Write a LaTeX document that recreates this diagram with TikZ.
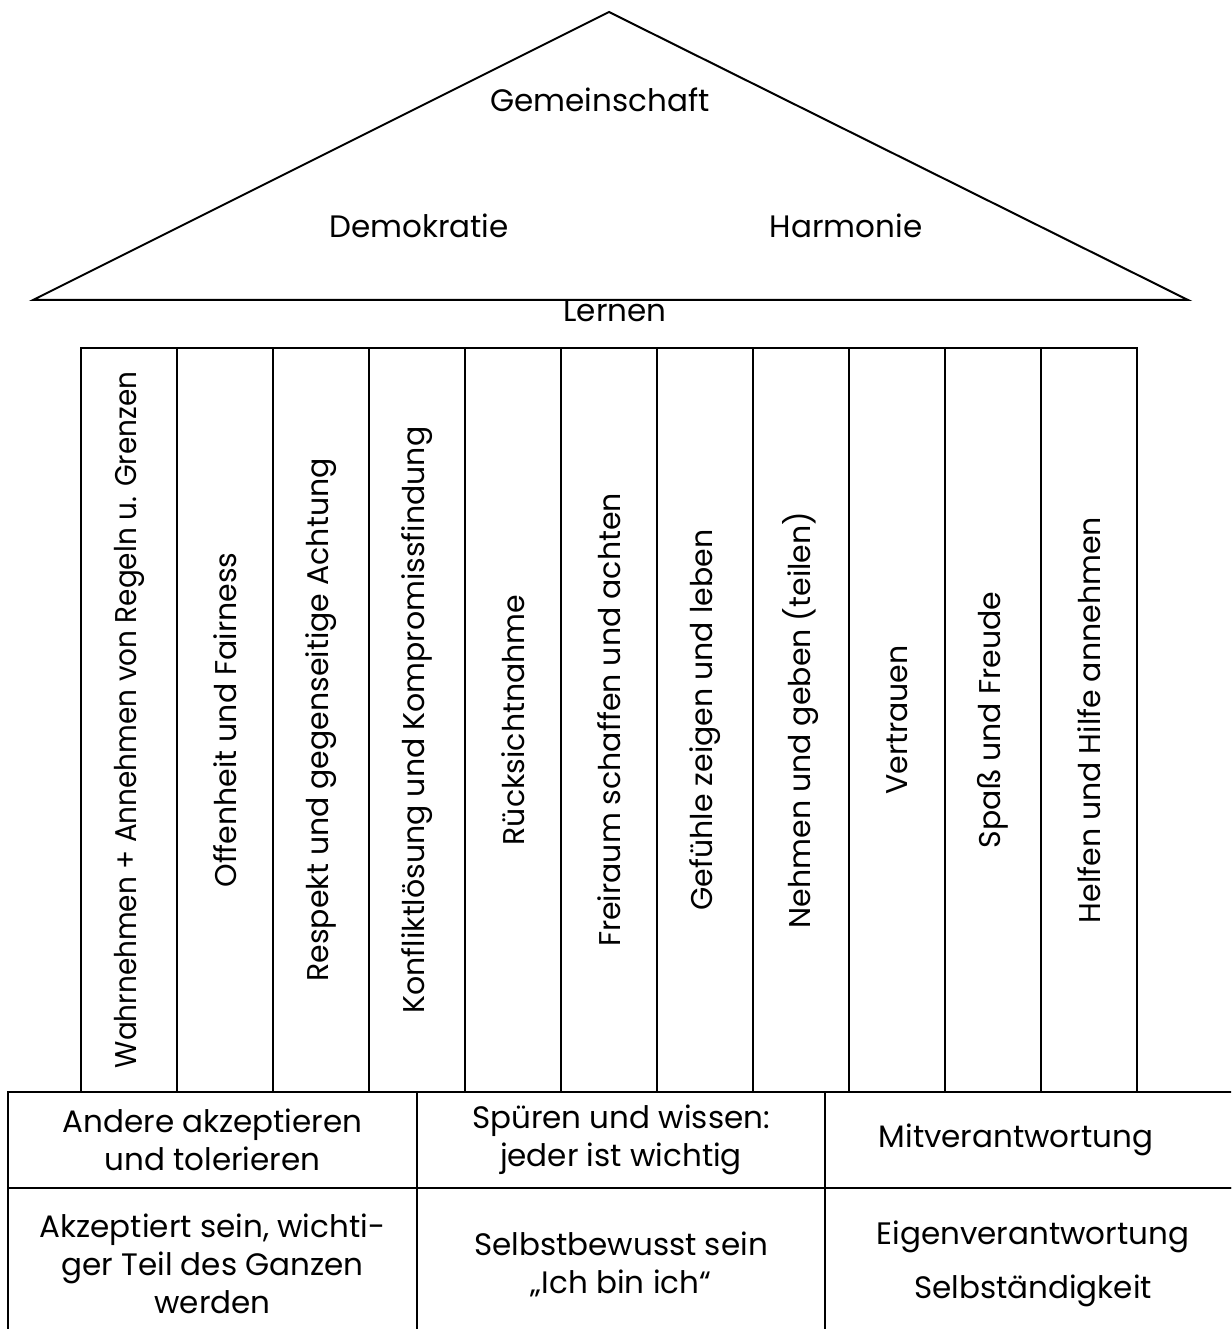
\documentclass[tikz,border=0pt]{standalone}
\usepackage{fontspec}
\setmainfont{Poppins}
\begin{document}
\begin{tikzpicture}[x=1pt,y=-1pt,line width=2pt,
  txt/.style={font=\fontsize{31}{38}\selectfont, inner sep=0pt},
  col/.style={draw, rotate=90, minimum width=744pt, minimum height=96pt, inner sep=0pt, font=\fontsize{30}{38}\selectfont},
  cell/.style={draw, minimum height=96pt, inner sep=0pt, align=center, font=\fontsize{31}{38}\selectfont},
  lowcell/.style={draw, minimum height=152pt, inner sep=0pt, align=center, font=\fontsize{31}{38}\selectfont}]
\useasboundingbox (0,0) rectangle (1231,1329);
\clip (0,0) rectangle (1231,1329);
% roof
\coordinate (roofL) at (33,300);
\coordinate (roofT) at (609,12);
\coordinate (roofR) at (1188,300);
\draw[line join=miter] (roofL) -- (roofT) -- (roofR) -- cycle;
\node[txt] (gem) at (600,100) {Gemeinschaft};
\node[txt] (demo) at (419,226) {Demokratie};
\node[txt] (harm) at (846,226) {Harmonie};
\node[txt] (lern) at (615,311) {Lernen};
% columns
\node[col] (c1) at (129,720) {\scalebox{0.93}[1]{Wahrnehmen + Annehmen von Regeln u. Grenzen}};
\node[col] (c2) at (225,720) {Offenheit und Fairness};
\node[col] (c3) at (321,720) {Respekt und gegenseitige Achtung};
\node[col] (c4) at (417,720) {Konfliktlösung und Kompromissfindung};
\node[col] (c5) at (513,720) {Rücksichtnahme};
\node[col] (c6) at (609,720) {Freiraum schaffen und achten};
\node[col] (c7) at (705,720) {Gefühle zeigen und leben};
\node[col] (c8) at (801,720) {Nehmen und geben (teilen)};
\node[col] (c9) at (897,720) {Vertrauen};
\node[col] (c10) at (993,720) {Spaß und Freude};
\node[col] (c11) at (1089,720) {Helfen und Hilfe annehmen};
% base
\node[cell, minimum width=409pt] (b11) at (212.5,1140) {Andere akzeptieren\\und tolerieren};
\node[cell, minimum width=408pt] (b12) at (621,1140) {Spüren und wissen:\\jeder ist wichtig};
\node[cell, minimum width=416pt] (b13) at (1033,1140) {\hspace*{-34pt}Mitverantwortung};
\node[lowcell, minimum width=409pt] (b21) at (212.5,1264) {Akzeptiert sein, wichti-\\ger Teil des Ganzen\\werden};
\node[lowcell, minimum width=408pt] (b22) at (621,1264) {Selbstbewusst sein\\„Ich bin ich“};
\node[lowcell, minimum width=416pt] (b23) at (1033,1264) {Eigenverantwortung\\[16pt]Selbständigkeit};
\end{tikzpicture}
\end{document}
